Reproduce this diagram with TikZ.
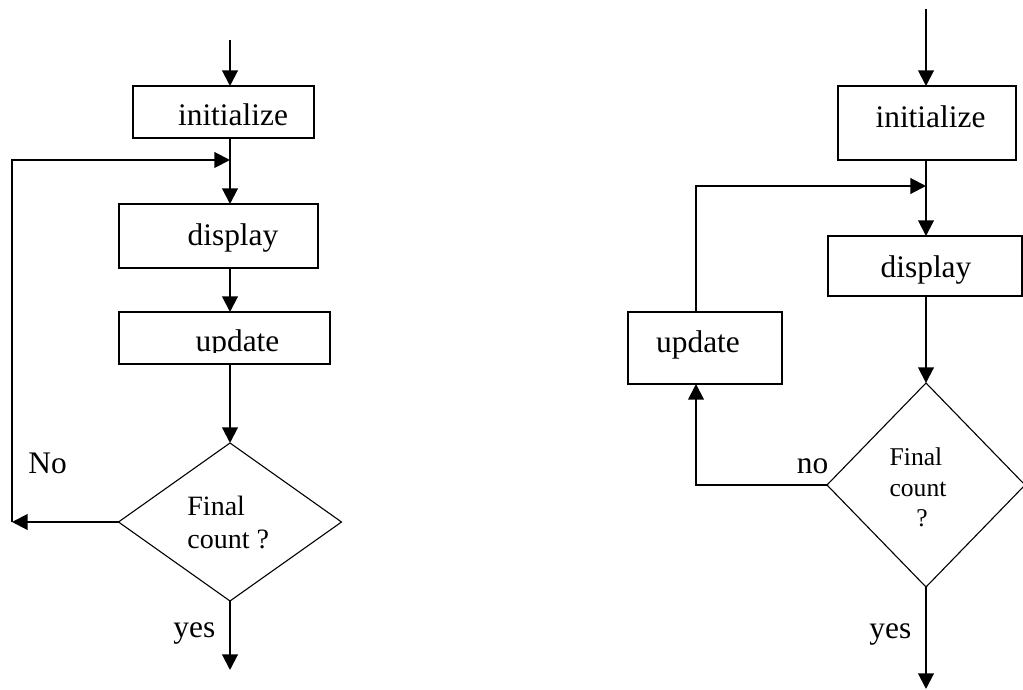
\documentclass[tikz,border=0pt]{standalone}
\usepackage{fontspec}
\setmainfont{Liberation Serif}
\usetikzlibrary{arrows.meta,shapes.geometric}

\tikzset{
  flowbox/.style={draw, line width=0.7pt, inner sep=0pt, outer sep=0pt},
  decide/.style={diamond, draw, line width=0.55pt, inner sep=0pt, outer sep=0pt},
  flow/.style={line width=1pt, -{Triangle[length=7.8pt,width=7.8pt]}},
  lbl/.style={font=\fontsize{15.7}{18}\selectfont, inner sep=0pt, anchor=base},
  qlbl/.style={font=\fontsize{14}{16}\selectfont, inner sep=0pt, anchor=base west},
  qlblsmall/.style={font=\fontsize{12.8}{15}\selectfont, inner sep=0pt, anchor=base},
}

\begin{document}
\begin{tikzpicture}[x=0.5pt, y=-0.5pt]
\useasboundingbox (0,0) rectangle (1023,690);

% ---------------- left flowchart: update inside the loop body ----------------
\coordinate (s1) at (230,40);
\coordinate (j1) at (230,160);
\coordinate (c1) at (12,522);
\coordinate (e1) at (230,670);

\node[flowbox, minimum width=181*0.5pt, minimum height=52*0.5pt] (init1) at (223.5,112) {};
\node[flowbox, minimum width=199*0.5pt, minimum height=64*0.5pt] (disp1) at (218.5,236) {};
\node[flowbox, minimum width=211*0.5pt, minimum height=52*0.5pt] (upd1) at (224.5,338) {};
\node[decide, minimum width=223*0.5pt, minimum height=158*0.5pt] (d1) at (230,522) {};

\node[lbl] (t-init1) at (233,126) {initialize};
\node[lbl] (t-disp1) at (233,245) {display};
\begin{scope}
  \clip (119,300) rectangle (330,352);
  \node[lbl] (t-upd1) at (237.5,351) {update};
\end{scope}
\node[qlbl] (t-final1) at (187,515) {Final};
\node[qlbl] (t-count1) at (187,548) {count ?};
\node[lbl, anchor=base west] (t-no1) at (28,473) {No};
\node[lbl, anchor=base west] (t-yes1) at (173,637) {yes};

\draw[flow] (s1) -- (s1 |- init1.north);
\draw[flow] (s1 |- init1.south) -- (s1 |- disp1.north);
\draw[flow] (s1 |- disp1.south) -- (s1 |- upd1.north);
\draw[flow] (s1 |- upd1.south) -- (d1.north);
\draw[flow] (d1.west) -- (c1);
\draw[flow] (c1) |- (j1);
\draw[flow] (d1.south) -- (e1);

% ---------------- right flowchart: update on the "no" branch ----------------
\coordinate (s2) at (926,9);
\coordinate (j2) at (926,186);
\coordinate (c2) at (696,485);
\coordinate (e2) at (926,689);

\node[flowbox, minimum width=178*0.5pt, minimum height=74*0.5pt] (init2) at (927,123) {};
\node[flowbox, minimum width=194*0.5pt, minimum height=60*0.5pt] (disp2) at (925,266) {};
\node[flowbox, minimum width=154*0.5pt, minimum height=72*0.5pt] (upd2) at (705,348) {};
\node[decide, minimum width=198*0.5pt, minimum height=204*0.5pt] (d2) at (926,485) {};

\node[lbl] (t-init2) at (930.5,127) {initialize};
\node[lbl] (t-disp2) at (926,277) {display};
\node[lbl] (t-upd2) at (698,352) {update};
\node[qlblsmall] (t-final2) at (916,465) {Final};
\node[qlblsmall] (t-count2) at (918,496) {count};
\node[qlblsmall] (t-q2) at (922,526) {?};
\node[lbl] (t-no2) at (812.5,473) {no};
\node[lbl, anchor=base west] (t-yes2) at (869,638) {yes};

\draw[flow] (s2) -- (s2 |- init2.north);
\draw[flow] (s2 |- init2.south) -- (s2 |- disp2.north);
\draw[flow] (s2 |- disp2.south) -- (d2.north);
\draw[flow] (d2.west) -- (c2) -- (c2 |- upd2.south);
\draw[flow] (c2 |- upd2.north) |- (j2);
\draw[flow] (d2.south) -- (e2);
\end{tikzpicture}
\end{document}
